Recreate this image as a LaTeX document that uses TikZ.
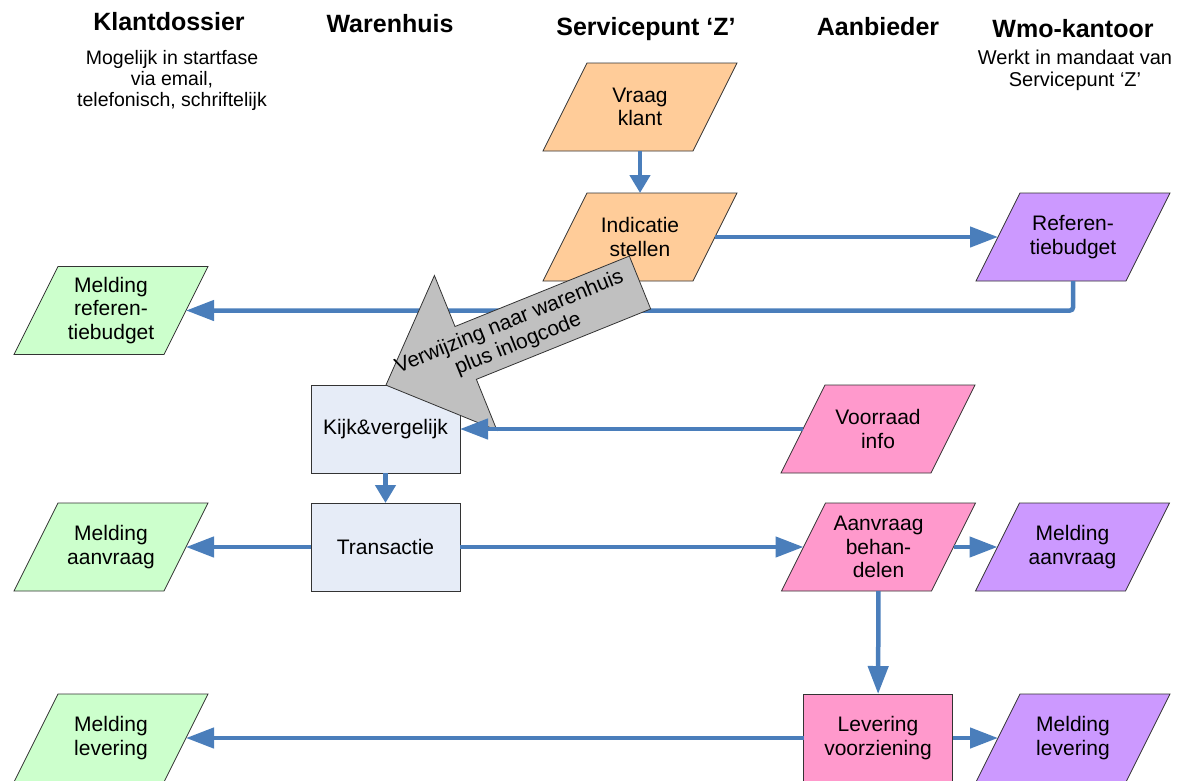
\documentclass[tikz,border=0pt]{standalone}
\usepackage{fontspec}
\setmainfont{Liberation Sans}
\usetikzlibrary{arrows.meta,backgrounds}
\definecolor{oranje}{HTML}{FFCC99}
\definecolor{groen}{HTML}{CCFFCC}
\definecolor{paars}{HTML}{CC99FF}
\definecolor{roze}{HTML}{FF99CC}
\definecolor{lichtblauw}{HTML}{E6ECF7}
\definecolor{grijs}{HTML}{C0C0C0}
\definecolor{blauw}{HTML}{4A7EBB}
\definecolor{rand}{HTML}{333333}

\begin{document}
\begin{tikzpicture}[x=1pt,y=-1pt]
			\tikzstyle{every node}+=[inner sep=0pt, outer sep=0pt, align=center, font=\fontsize{21}{23.5}\selectfont]
			\tikzstyle{invoer}=[rectangle, minimum width=150, minimum height=88]
			\tikzstyle{scheef}=[draw=rand, line width=0.8pt]
			\tikzstyle{proces}=[rectangle, minimum width=149, minimum height=88, draw=rand, line width=0.8pt]
			\tikzstyle{kop}=[anchor=base, font=\fontsize{25}{29}\selectfont\bfseries]
			\tikzstyle{onder}=[anchor=north, font=\fontsize{19.5}{21}\selectfont]
			\tikzstyle{pijl}=[draw=blauw, line width=4.5pt, -{Triangle[length=28pt,width=20pt]}]
			\tikzstyle{kortepijl}=[pijl, -{Triangle[length=18pt,width=20pt]}]
			\useasboundingbox (0,0) rectangle (1183,780);
			\node [kop] (klantdossier) at (169,30) {Klantdossier};
			\node [onder] (klantuitleg) at (172,50) {Mogelijk in startfase\\via email,\\telefonisch, schriftelijk};
			\node [kop] (warenhuis) at (390,32) {Warenhuis};
			\node [kop] (servicepunt) at (646,35) {Servicepunt `Z'};
			\node [kop] (aanbieder) at (878,35) {Aanbieder};
			\node [kop] (wmo) at (1073,37) {Wmo-kantoor};
			\node [onder, font=\fontsize{20}{22}\selectfont] (wmouitleg) at (1075,50) {Werkt in mandaat van\\Servicepunt `Z'};
			\node [invoer] (vraag) at (640,107) {Vraag\\klant};
			\node [invoer] (indicatie) at (640,237) {Indicatie\\stellen};
			\node [invoer] (refbudget) at (1073,237) {Referen-\\tiebudget};
			\node [invoer] (mrefbudget) at (111,310.5) {Melding\\referen-\\tiebudget};
			\node [proces, fill=lichtblauw] (kijk) at (385.5,429) {Kijk\&vergelijk};
			\node [invoer] (voorraad) at (878,429) {Voorraad\\info};
			\node [proces, fill=lichtblauw] (transactie) at (385.5,547) {Transactie};
			\node [invoer] (maanvraagk) at (111,547) {Melding\\aanvraag};
			\node [invoer] (aanvraag) at (878.5,547) {Aanvraag\\behan-\\delen};
			\node [invoer] (maanvraagw) at (1072.5,547) {Melding\\aanvraag};
			\node [proces, fill=roze] (levering) at (878,738) {Levering\\voorziening};
			\node [invoer] (mleveringk) at (111,738) {Melding\\levering};
			\node [invoer] (mleveringw) at (1073,738) {Melding\\levering};
			\begin{scope}[on background layer]
				\foreach \p/\kleur in {vraag/oranje, indicatie/oranje, refbudget/paars, mrefbudget/groen, voorraad/roze, maanvraagk/groen, aanvraag/roze, maanvraagw/paars, mleveringk/groen, mleveringw/paars}
					\draw [scheef, fill=\kleur] ([xshift=22pt]\p.north west) -- ([xshift=22pt]\p.north east) -- ([xshift=-22pt]\p.south east) -- ([xshift=-22pt]\p.south west) -- cycle;
			\end{scope}
			\draw [pijl, rounded corners=3pt] (refbudget.south) |- (mrefbudget.east);
			\begin{scope}[shift={(640,282.5)}, rotate=22]
				\draw [fill=grijs, draw=rand, line width=0.8pt] (0,-28.5) -- (0,28.5) -- (-188,28.5) -- (-188,83.5) -- (-274,0) -- (-188,-83.5) -- (-188,-28.5) -- cycle;
				\node [rotate=22] (verwijzing) at (-136,0) {Verwijzing naar warenhuis\\plus inlogcode};
			\end{scope}
			\draw [kortepijl] (vraag) -- (indicatie);
			\draw [pijl] (indicatie) -- (refbudget);
			\draw [pijl] (voorraad) -- (kijk);
			\draw [kortepijl] (kijk) -- (transactie);
			\draw [pijl] (transactie) -- (maanvraagk);
			\draw [pijl] (transactie) -- (aanvraag);
			\draw [pijl] (aanvraag) -- (maanvraagw);
			\draw [pijl] (aanvraag) -- (levering);
			\draw [pijl] (levering) -- (mleveringk);
			\draw [pijl] (levering) -- (mleveringw);
		\end{tikzpicture}
\end{document}
